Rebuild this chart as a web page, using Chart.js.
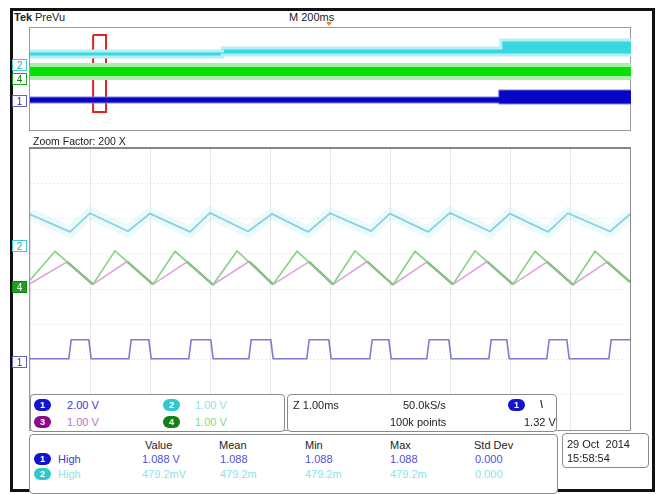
<!DOCTYPE html>
<html><head><meta charset="utf-8">
<script src="https://cdn.jsdelivr.net/npm/chart.js@4.4.0/dist/chart.umd.min.js"></script>
<style>
body{margin:0;background:#fff;}
#root{position:relative;width:658px;height:494px;overflow:hidden;font-family:"Liberation Sans",Arial,sans-serif;font-size:11px;color:#222;}
.t{position:absolute;white-space:nowrap;line-height:1;}
.box{position:absolute;border:1px solid #8a8a8a;border-radius:4px;box-sizing:border-box;background:#fff;}
.pill{position:absolute;width:17px;height:12px;border-radius:6px;color:#fff;font-size:9px;line-height:12px;text-align:center;font-weight:bold;}
.mk{position:absolute;width:15px;height:12px;font-size:10px;line-height:11px;text-align:center;box-sizing:border-box;border:1px solid;}
canvas{position:absolute;}
</style></head>
<body><div id="root">
<div style="position:absolute;left:10px;top:8px;width:645px;height:484px;border:3px solid #111;box-sizing:border-box;"></div>

<div class="t" style="left:14px;top:12px;font-weight:bold;">Tek</div>
<div class="t" style="left:35px;top:12px;">PreVu</div>
<div class="t" style="left:289px;top:12px;">M 200ms</div>
<div style="position:absolute;left:326px;top:22px;width:0;height:0;border-left:3px solid transparent;border-right:3px solid transparent;border-top:4px solid #f08030;"></div>

<div style="position:absolute;left:29px;top:27px;width:602px;height:104px;border:1px solid #999;box-sizing:border-box;"></div>
<canvas id="ov" width="605" height="106" style="left:28px;top:26px;"></canvas>

<div class="mk" style="left:12px;top:59px;border-color:#40c8d0;color:#30a8b0;">2</div>
<div class="mk" style="left:12px;top:73px;border-color:#20a020;color:#108010;">4</div>
<div class="mk" style="left:12px;top:95px;border-color:#6060c0;color:#3030a0;">1</div>

<div class="t" style="left:33px;top:136px;font-size:10.5px;">Zoom Factor: 200 X</div>

<div style="position:absolute;left:29px;top:147px;width:602px;height:284px;border:1px solid #999;border-top:2px solid #888;box-sizing:border-box;"></div>
<canvas id="main" width="604" height="286" style="left:28px;top:146px;"></canvas>

<div class="mk" style="left:12px;top:240px;border-color:#40c8d0;color:#30a8b0;">2</div>
<div class="mk" style="left:12px;top:281px;border-color:#108010;background:#20a020;color:#fff;">4</div>
<div class="mk" style="left:12px;top:356px;border-color:#6060c0;color:#3030a0;">1</div>

<div class="box" style="left:30px;top:394px;width:255px;height:38px;">
  <div class="pill" style="left:3px;top:4px;background:#1414d0;">1</div>
  <div class="t" style="left:36px;top:5px;color:#3a3ad0;">2.00 V</div>
  <div class="pill" style="left:132px;top:4px;background:#30c8cc;">2</div>
  <div class="t" style="left:164px;top:5px;color:#8ce4e8;">1.00 V</div>
  <div class="pill" style="left:3px;top:21px;background:#8a0a8a;">3</div>
  <div class="t" style="left:36px;top:22px;color:#c070c8;">1.00 V</div>
  <div class="pill" style="left:132px;top:21px;background:#128012;">4</div>
  <div class="t" style="left:164px;top:22px;color:#80dc80;">1.00 V</div>
</div>
<div class="box" style="left:287px;top:394px;width:270px;height:38px;">
  <div class="t" style="left:5px;top:5px;">Z 1.00ms</div>
  <div class="t" style="left:115px;top:5px;">50.0kS/s</div>
  <div class="t" style="left:102px;top:22px;">100k points</div>
  <div class="pill" style="left:220px;top:4px;background:#1414d0;">1</div>
  <div class="t" style="left:252px;top:4px;font-weight:bold;color:#205020;">\</div>
  <div class="t" style="left:236px;top:22px;">1.32 V</div>
</div>
<div class="box" style="left:29px;top:434px;width:529px;height:60px;">
  <div class="t" style="left:115px;top:5px;">Value</div>
  <div class="t" style="left:189px;top:5px;">Mean</div>
  <div class="t" style="left:275px;top:5px;">Min</div>
  <div class="t" style="left:360px;top:5px;">Max</div>
  <div class="t" style="left:444px;top:5px;">Std Dev</div>
  <div class="pill" style="left:4px;top:18px;background:#1414d0;">1</div>
  <div class="t" style="left:28px;top:19px;color:#3a3ad0;">High</div>
  <div class="t" style="left:112px;top:19px;color:#5050d8;">1.088 V</div>
  <div class="t" style="left:190px;top:19px;color:#5050d8;">1.088</div>
  <div class="t" style="left:275px;top:19px;color:#5050d8;">1.088</div>
  <div class="t" style="left:360px;top:19px;color:#5050d8;">1.088</div>
  <div class="t" style="left:445px;top:19px;color:#5050d8;">0.000</div>
  <div class="pill" style="left:4px;top:33px;background:#30c8cc;">2</div>
  <div class="t" style="left:28px;top:34px;color:#8ce4e8;">High</div>
  <div class="t" style="left:112px;top:34px;color:#8ce4e8;">479.2mV</div>
  <div class="t" style="left:190px;top:34px;color:#8ce4e8;">479.2m</div>
  <div class="t" style="left:275px;top:34px;color:#8ce4e8;">479.2m</div>
  <div class="t" style="left:360px;top:34px;color:#8ce4e8;">479.2m</div>
  <div class="t" style="left:445px;top:34px;color:#8ce4e8;">0.000</div>
</div>
<div class="box" style="left:562px;top:433px;width:87px;height:35px;">
  <div class="t" style="left:4px;top:5px;">29 Oct&nbsp; 2014</div>
  <div class="t" style="left:4px;top:19px;">15:58:54</div>
</div>
</div>
<script>
// ---- overview (record) window: time in ms, level in divisions ----
const ovCyanT   = [0, 640, 640, 1567, 1567, 2000];
const ovCyanTop = [6.20, 6.20, 6.43, 6.43, 7.06, 7.06];
const ovCyanBot = [5.73, 5.73, 5.88, 5.88, 5.88, 5.88];
const ovGreenT   = [0, 2000];
const ovGreenTop = [5.10, 5.10];
const ovGreenBot = [4.08, 4.08];
const ovBlueT   = [0, 1560, 1560, 2000];
const ovBlueTop = [2.59, 2.59, 3.14, 3.14];
const ovBlueBot = [2.12, 2.12, 2.04, 2.04];
const zoomBoxT = [210, 253, 253, 210, 210];
const zoomBoxV = [7.45, 7.45, 1.41, 1.41, 7.45];

// ---- zoom window: time in ms (1 ms/div), level in divisions ----
const cyanT = [0, 0.667, 1.0, 1.633, 2.0, 2.667, 3.0, 3.633, 4.033, 4.633, 5.0, 5.683, 6.0, 6.633, 7.0, 7.667, 8.0, 8.633, 8.967, 9.667, 10.0];
const cyanV = [6.12, 5.62, 6.15, 5.64, 6.14, 5.62, 6.16, 5.63, 6.13, 5.62, 6.15, 5.64, 6.14, 5.62, 6.16, 5.63, 6.14, 5.62, 6.15, 5.63, 6.12];
const greenT = [0, 0.417, 1.05, 1.417, 2.05, 2.417, 3.05, 3.45, 4.05, 4.45, 5.05, 5.417, 6.05, 6.417, 7.05, 7.417, 8.05, 8.417, 9.05, 9.417, 10.0];
const greenV = [4.25, 5.07, 4.13, 5.08, 4.13, 5.07, 4.12, 5.08, 4.13, 5.07, 4.13, 5.08, 4.12, 5.07, 4.13, 5.08, 4.13, 5.07, 4.12, 5.07, 4.20];
const magT = [0, 0.617, 1.05, 1.617, 2.05, 2.617, 3.05, 3.65, 4.05, 4.65, 5.05, 5.617, 6.05, 6.617, 7.05, 7.617, 8.05, 8.617, 9.05, 9.617, 10.0];
const magV = [4.15, 4.77, 4.13, 4.78, 4.13, 4.77, 4.12, 4.78, 4.13, 4.77, 4.13, 4.78, 4.12, 4.77, 4.13, 4.78, 4.13, 4.77, 4.12, 4.77, 4.20];
const blueRise = [0.667, 1.667, 2.667, 3.667, 4.633, 5.683, 6.633, 7.667, 8.633, 9.667];
const blueFall = [1.0, 2.0, 3.033, 4.033, 5.0, 6.0, 7.0, 7.967, 8.967];
const blueLow = 2.02, blueHigh = 2.56;

const pts = (xs, ys) => xs.map((x, i) => ({x, y: ys[i]}));

function bluePoints() {
  const p = [{x: 0, y: blueLow}];
  const ev = [];
  blueRise.forEach(t => ev.push([t, 1]));
  blueFall.forEach(t => ev.push([t, 0]));
  ev.sort((a, b) => a[0] - b[0]);
  ev.forEach(([t, up]) => {
    if (up) { p.push({x: t - 0.02, y: blueLow}); p.push({x: t + 0.02, y: blueHigh}); }
    else { p.push({x: t - 0.02, y: blueHigh}); p.push({x: t + 0.02, y: blueLow}); }
  });
  p.push({x: 10, y: blueHigh});
  return p;
}

const line = (data, color, w, extra) => Object.assign({type: 'line', data, borderColor: color, borderWidth: w, pointRadius: 0, tension: 0, fill: false}, extra || {});

new Chart(document.getElementById('ov'), {
  type: 'line',
  data: { datasets: [
    line(pts(ovCyanT, ovCyanBot), '#b8eef2', 3),
    line(pts(ovCyanT, ovCyanTop), '#b8eef2', 3, {fill: '-1', backgroundColor: '#36d8e2'}),
    line(pts(ovGreenT, ovGreenBot), '#a8f0a8', 4),
    line(pts(ovGreenT, ovGreenTop), '#a8f0a8', 4, {fill: '-1', backgroundColor: '#06e006'}),
    line(pts(ovBlueT, ovBlueBot), '#8080e0', 1),
    line(pts(ovBlueT, ovBlueTop), '#8080e0', 1, {fill: '-1', backgroundColor: '#0606c4'}),
    line(pts(zoomBoxT, zoomBoxV), '#e02424', 2)
  ]},
  options: {
    responsive: false, animation: false, events: [],
    layout: {padding: {left: 2, right: 2, top: 2, bottom: 2}},
    plugins: {legend: {display: false}, tooltip: {enabled: false}},
    scales: {
      x: {type: 'linear', min: 0, max: 2000, display: false},
      y: {type: 'linear', min: 0, max: 8, display: false}
    }
  }
});

new Chart(document.getElementById('main'), {
  type: 'line',
  data: { datasets: [
    line(pts(cyanT, cyanV), 'rgba(190,236,246,0.28)', 12),
    line(pts(cyanT, cyanV), '#70c8d8', 1.8),
    line(pts(greenT, greenV), '#80d480', 1.6),
    line(pts(magT, magV), '#e2a2de', 1.6, {segment: {borderColor: c => c.p1.parsed.y < c.p0.parsed.y ? '#7c7c7c' : '#e2a2de', borderWidth: c => c.p1.parsed.y < c.p0.parsed.y ? 2.2 : 1.6}}),
    line(bluePoints(), '#7c7cd0', 1.6)
  ]},
  options: {
    responsive: false, animation: false, events: [],
    layout: {padding: {left: 2, right: 2, top: 2, bottom: 2}},
    plugins: {legend: {display: false}, tooltip: {enabled: false}},
    scales: {
      x: {type: 'linear', min: 0, max: 10,
          ticks: {display: false, stepSize: 1},
          grid: {color: 'rgba(0,0,0,0.09)', drawTicks: false},
          border: {display: false}},
      y: {type: 'linear', min: 0, max: 8,
          ticks: {display: false, stepSize: 1},
          grid: {color: 'rgba(0,0,0,0.14)', drawTicks: false},
          border: {display: false, dash: [1, 3]}}
    }
  }
});
</script>
</body></html>
